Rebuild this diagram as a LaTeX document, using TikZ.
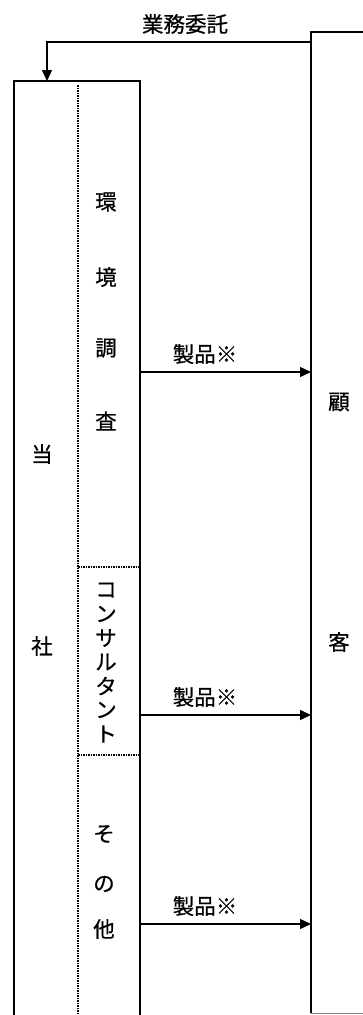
\documentclass[tikz,border=0pt]{standalone}
\usepackage{fontspec}
\newfontfamily\jp[FakeBold=0.6]{Noto Sans CJK JP}
\usetikzlibrary{arrows.meta}
\begin{document}
\begin{tikzpicture}[x=1pt,y=-1pt,
  box/.style={line width=1.6pt},
  sep/.style={line width=1.2pt, dash pattern=on 2pt off 1pt on 1pt off 1pt},
  flow/.style={line width=1.4pt, -{Triangle[length=11pt,width=10pt]}},
  lbl/.style={font=\jp\fontsize{21.5}{21.5}\selectfont, inner sep=0pt},
]
\clip (0,0) rectangle (363,1015);
\fill[white] (0,0) rectangle (363,1015);
% left box (our company)
\coordinate (Ltl) at (14,81);
\coordinate (Ltr) at (140,81);
\coordinate (Lbl) at (14,1030);
\coordinate (Lbr) at (140,1030);
\draw[box] (Lbl) -- (Ltl) -- (Ltr) -- (Lbr);
% right box (customer)
\coordinate (Rtl) at (311,32);
\coordinate (Rtr) at (380,32);
\coordinate (Rbl) at (311,1013);
\coordinate (Rbr) at (380,1013);
\draw[box] (Rtr) -- (Rtl) -- (Rbl);
\draw[gray, line width=1pt] (Rbl) -- (Rbr);
% internal dotted separators
\coordinate (Dt) at (78,85);
\coordinate (Db) at (78,1030);
\draw[sep] (Dt) -- (Db);
\coordinate (S1l) at (78,567);
\coordinate (S1r) at (140,567);
\coordinate (S2l) at (78,755);
\coordinate (S2r) at (140,755);
\draw[sep] (S1l) -- (S1r);
\draw[sep] (S2l) -- (S2r);
% top commission arrow
\coordinate (Ts) at (311,42);
\coordinate (Tc) at (47,42);
\coordinate (Te) at (47,81);
\draw[flow] (Ts) -- (Tc) -- (Te);
\node[lbl] (task) at (185,24) {業務委託};
% product arrows
\foreach \i/\y in {1/372,2/715,3/924}{
  \coordinate (P\i s) at (140,\y);
  \coordinate (P\i e) at (311,\y);
  \draw[flow] (P\i s) -- (P\i e);
  \node[lbl] (prod\i) at (205,\y-18) {製品※};
}
% left labels
\node[lbl] (to) at (42,454) {当};
\node[lbl] (sha) at (42,646) {社};
% right labels
\node[lbl] (ko) at (339,402) {顧};
\node[lbl] (kyaku) at (339,642) {客};
% environmental survey
\node[lbl] (k1) at (106,202) {環};
\node[lbl] (k2) at (106,277) {境};
\node[lbl] (k3) at (106,348) {調};
\node[lbl] (k4) at (106,421) {査};
% consultant
\foreach \c [count=\n] in {コ,ン,サ,ル,タ,ン,ト}{
  \node[lbl] (c\n) at (106,566+24*\n) {\c};
}
% others
\node[lbl] (o1) at (104,834) {そ};
\node[lbl] (o2) at (104,884) {の};
\node[lbl] (o3) at (104,929) {他};
\end{tikzpicture}
\end{document}
